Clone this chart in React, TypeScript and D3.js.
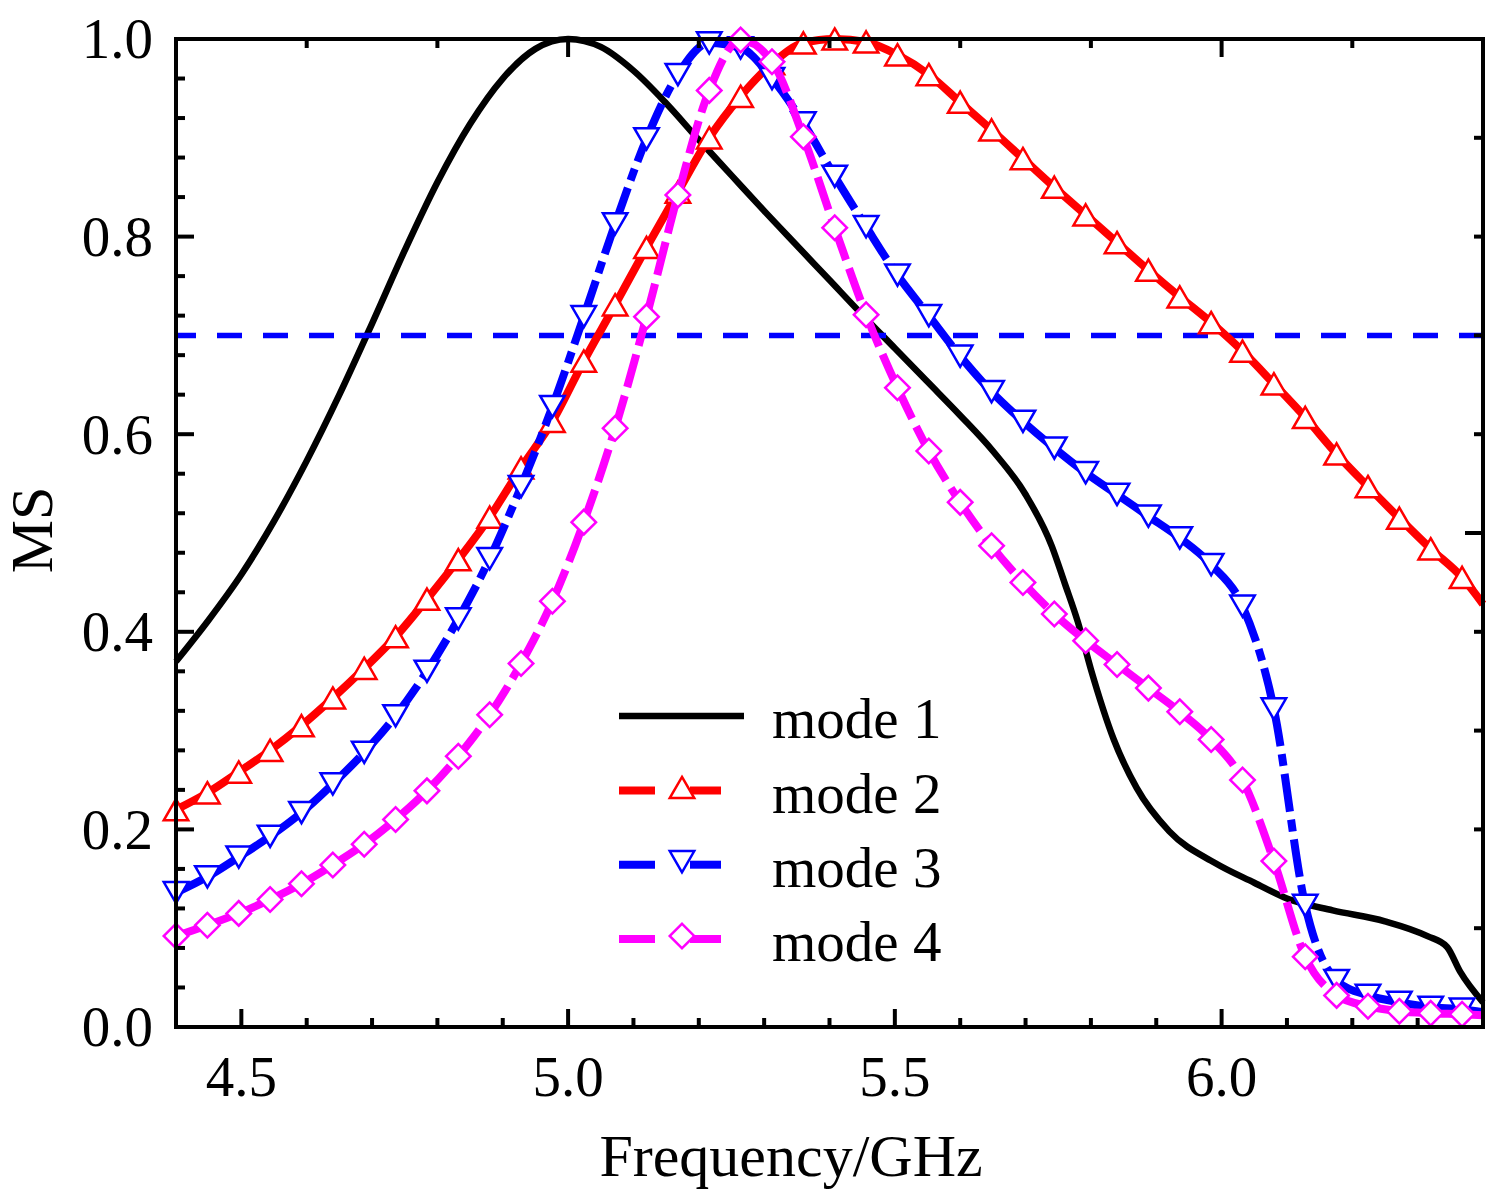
import * as d3 from "d3";

const W = 1503;
const H = 1190;

// marker grid shared by modes 2-4 (last point has no symbol)
const freq = [
  4.4, 4.448, 4.496, 4.544, 4.592, 4.64, 4.688, 4.736, 4.784, 4.832, 4.88,
  4.928, 4.976, 5.024, 5.072, 5.12, 5.168, 5.216, 5.264, 5.312, 5.36, 5.408,
  5.456, 5.504, 5.552, 5.6, 5.648, 5.696, 5.744, 5.792, 5.84, 5.888, 5.936,
  5.984, 6.032, 6.08, 6.128, 6.176, 6.224, 6.272, 6.32, 6.368, 6.4,
];
const mode2 = [
  0.22, 0.237, 0.258, 0.28, 0.305, 0.333, 0.363, 0.395, 0.433, 0.473, 0.516,
  0.566, 0.613, 0.674, 0.731, 0.789, 0.845, 0.9, 0.942, 0.975, 0.996, 1.0,
  0.997, 0.984, 0.964, 0.936, 0.908, 0.879, 0.85, 0.822, 0.794, 0.766, 0.739,
  0.713, 0.684, 0.651, 0.617, 0.58, 0.547, 0.515, 0.484, 0.455, 0.428,
];
const mode3 = [
  0.136, 0.152, 0.172, 0.193, 0.217, 0.246, 0.278, 0.315, 0.36, 0.413, 0.474,
  0.547, 0.628, 0.719, 0.813, 0.899, 0.964, 0.996, 0.991, 0.96, 0.915, 0.861,
  0.81, 0.761, 0.72, 0.679, 0.643, 0.613, 0.586, 0.561, 0.539, 0.517, 0.495,
  0.468, 0.426, 0.322, 0.123, 0.047, 0.032, 0.025, 0.02, 0.018, 0.015,
];
const mode4 = [
  0.092, 0.103, 0.115, 0.129, 0.145, 0.164, 0.185, 0.21, 0.239, 0.274, 0.316,
  0.368, 0.431, 0.511, 0.606, 0.719, 0.842, 0.948, 0.999, 0.977, 0.901, 0.809,
  0.721, 0.647, 0.583, 0.531, 0.487, 0.45, 0.418, 0.391, 0.367, 0.343, 0.319,
  0.291, 0.25, 0.168, 0.071, 0.032, 0.021, 0.016, 0.014, 0.013, 0.012,
];

// mode 1 has its own (denser near the knee) sampling, no symbols
const freq1 = [
  4.4, 4.45, 4.5, 4.55, 4.6, 4.65, 4.7, 4.75, 4.8, 4.85, 4.9, 4.95, 5.0, 5.05,
  5.1, 5.15, 5.2, 5.25, 5.3, 5.35, 5.4, 5.45, 5.5, 5.55, 5.6, 5.65, 5.7, 5.74,
  5.76, 5.78, 5.8, 5.835, 5.87, 5.92, 5.99, 6.05, 6.1, 6.17, 6.25, 6.315,
  6.345, 6.365, 6.4,
];
const mode1 = [
  0.37, 0.412, 0.458, 0.512, 0.573, 0.64, 0.712, 0.786, 0.855, 0.914, 0.96,
  0.99, 1.0, 0.992, 0.968, 0.935, 0.898, 0.862, 0.826, 0.791, 0.756, 0.721,
  0.687, 0.653, 0.619, 0.583, 0.539, 0.487, 0.449, 0.41, 0.362, 0.291, 0.242,
  0.198, 0.166, 0.146, 0.13, 0.118, 0.107, 0.092, 0.081, 0.056, 0.025,
];

const threshold = 0.7;

const xMajor = [4.5, 5.0, 5.5, 6.0];
const xLabels = ["4.5", "5.0", "5.5", "6.0"];
const yMajor = [0, 0.2, 0.4, 0.6, 0.8, 1.0];
const yLabels = ["0.0", "0.2", "0.4", "0.6", "0.8", "1.0"];
const legendNames = ["mode 1", "mode 2", "mode 3", "mode 4"];

const x = d3.scaleLinear().domain([4.4, 6.4]).range([176, 1483]);
const y = d3.scaleLinear().domain([0, 1]).range([1027, 39]);

const FONT = "'Liberation Serif', 'Times New Roman', serif";

// split a curved line into one path per data interval so the dash
// pattern restarts at every point (like the original plot)
function segments(xs: number[], ys: number[]) {
  const out: string[] = [];
  let cx = 0, cy = 0;
  const ctx: any = {
    moveTo(a: number, b: number) { cx = a; cy = b; },
    lineTo(a: number, b: number) { out.push(`M${cx},${cy}L${a},${b}`); cx = a; cy = b; },
    bezierCurveTo(a: number, b: number, c: number, d: number, e: number, f: number) {
      out.push(`M${cx},${cy}C${a},${b},${c},${d},${e},${f}`); cx = e; cy = f;
    },
    closePath() {},
  };
  const pts = xs.map((v, i) => [v, ys[i]] as [number, number]);
  d3.line<[number, number]>()
    .x(d => x(d[0]))
    .y(d => y(d[1]))
    .curve(d3.curveMonotoneX)
    .context(ctx)(pts);
  return out;
}

const fullPath = (xs: number[], ys: number[]) =>
  d3.line<number>()
    .x((_, i) => x(xs[i]))
    .y(d => y(d))
    .curve(d3.curveMonotoneX)(ys) || "";

const triSize = 260;
const triUp = d3.symbol().type(d3.symbolTriangle).size(triSize)() || "";
const triH = Math.sqrt(triSize / (3 * Math.sqrt(3))) * 3;
const diamond = d3.symbol().type(d3.symbolSquare).size(300)() || "";

type Sym = "up" | "down" | "diamond";
const symTransform = (s: Sym, px: number, py: number) => {
  if (s === "up") return `translate(${px},${py + triH / 6})`;
  if (s === "down") return `translate(${px},${py - triH / 6}) rotate(180)`;
  return `translate(${px},${py}) rotate(45)`;
};
const symPath = (s: Sym) => (s === "diamond" ? diamond : triUp);

const series = [
  { name: legendNames[1], ys: mode2, color: "#ff0000", dash: "", sym: "up" as Sym },
  { name: legendNames[2], ys: mode3, color: "#0000ff", dash: "38,8,12,8", sym: "down" as Sym },
  { name: legendNames[3], ys: mode4, color: "#ff00ff", dash: "34,9", sym: "diamond" as Sym },
];

function Frame() {
  const xMinor = d3.range(4.4, 6.401, 0.1).filter(v => !xMajor.some(m => Math.abs(m - v) < 1e-6));
  const yMinor = d3.range(0, 1.001, 0.04).filter(v => !yMajor.some(m => Math.abs(m - v) < 1e-6));
  const topMajor = [5.0, 6.0];
  const topMinor = [4.6, 4.8, 5.2, 5.4, 5.6, 5.8, 6.2];
  const rightMajor = [0.5];
  const rightMinor = [0.1, 0.2, 0.3, 0.4, 0.6, 0.7, 0.8, 0.9];
  const L = 18, l = 9;
  const [x0, x1] = x.range();
  const [y0, y1] = y.range();
  return (
    <g stroke="#000" strokeWidth={4}>
      {xMajor.map(v => <line key={"xb" + v} x1={x(v)} x2={x(v)} y1={y0} y2={y0 - L} />)}
      {xMinor.map(v => <line key={"xm" + v} x1={x(v)} x2={x(v)} y1={y0} y2={y0 - l} />)}
      {topMajor.map(v => <line key={"tb" + v} x1={x(v)} x2={x(v)} y1={y1} y2={y1 + L} />)}
      {topMinor.map(v => <line key={"tm" + v} x1={x(v)} x2={x(v)} y1={y1} y2={y1 + l} />)}
      {yMajor.map(v => <line key={"yb" + v} x1={x0} x2={x0 + L} y1={y(v)} y2={y(v)} />)}
      {yMinor.map(v => <line key={"ym" + v} x1={x0} x2={x0 + l} y1={y(v)} y2={y(v)} />)}
      {rightMajor.map(v => <line key={"rb" + v} x1={x1} x2={x1 - L} y1={y(v)} y2={y(v)} />)}
      {rightMinor.map(v => <line key={"rm" + v} x1={x1} x2={x1 - l} y1={y(v)} y2={y(v)} />)}
      <rect x={x0} y={y1} width={x1 - x0} height={y0 - y1} fill="none" />
    </g>
  );
}

export default function App() {
  const legendX = 619;
  const legendBase = [738, 812.5, 886.7, 961];
  return (
    <svg
      width={W}
      height={H}
      style={{ position: "absolute", left: 0, top: 0, background: "#fff" }}
      fontFamily={FONT}
    >
      <rect width={W} height={H} fill="#fff" />

      {/* mode 1 */}
      <path d={fullPath(freq1, mode1)} fill="none" stroke="#000" strokeWidth={6.5} />

      {/* 0.7 reference */}
      <line
        x1={x(4.4)} x2={x(6.4)} y1={y(threshold)} y2={y(threshold)}
        stroke="#0000ff" strokeWidth={5.5} strokeDasharray="25,21" strokeDashoffset={5}
      />

      {series.map(s => (
        <g key={s.name}>
          {s.dash ? (
            segments(freq, s.ys).map((d, i) => (
              <path key={i} d={d} fill="none" stroke={s.color} strokeWidth={8} strokeDasharray={s.dash} />
            ))
          ) : (
            <path d={fullPath(freq, s.ys)} fill="none" stroke={s.color} strokeWidth={8} />
          )}
          {s.ys.slice(0, -1).map((v, i) => (
            <path
              key={"m" + i}
              d={symPath(s.sym)}
              transform={symTransform(s.sym, x(freq[i]), y(v))}
              fill="#fff"
              stroke={s.color}
              strokeWidth={2.5}
            />
          ))}
        </g>
      ))}

      <Frame />

      {/* tick labels */}
      <g fontSize={57} fill="#000">
        {xMajor.map((v, i) => (
          <text key={v} x={x(v)} y={1096} textAnchor="middle">{xLabels[i]}</text>
        ))}
        {yMajor.map((v, i) => (
          <text key={v} x={153} y={y(v)} dy="0.34em" textAnchor="end">{yLabels[i]}</text>
        ))}
      </g>

      {/* axis titles */}
      <text x={791} y={1176} fontSize={60} textAnchor="middle">Frequency/GHz</text>
      <text transform="translate(52,530) rotate(-90)" fontSize={60} textAnchor="middle">MS</text>

      {/* legend */}
      <g>
        <line x1={legendX} x2={744} y1={legendBase[0] - 22} y2={legendBase[0] - 22} stroke="#000" strokeWidth={6.5} />
        {series.map((s, i) => {
          const ly = legendBase[i + 1] - 22;
          return (
            <g key={s.name}>
              <line x1={legendX} x2={655} y1={ly} y2={ly} stroke={s.color} strokeWidth={8} />
              <line x1={690} x2={721} y1={ly} y2={ly} stroke={s.color} strokeWidth={8} />
              <path d={symPath(s.sym)} transform={symTransform(s.sym, 682, ly - 3)} fill="#fff" stroke={s.color} strokeWidth={2.5} />
            </g>
          );
        })}
        {legendNames.map((n, i) => (
          <text key={n} x={772} y={legendBase[i]} fontSize={57}>{n}</text>
        ))}
      </g>
    </svg>
  );
}
